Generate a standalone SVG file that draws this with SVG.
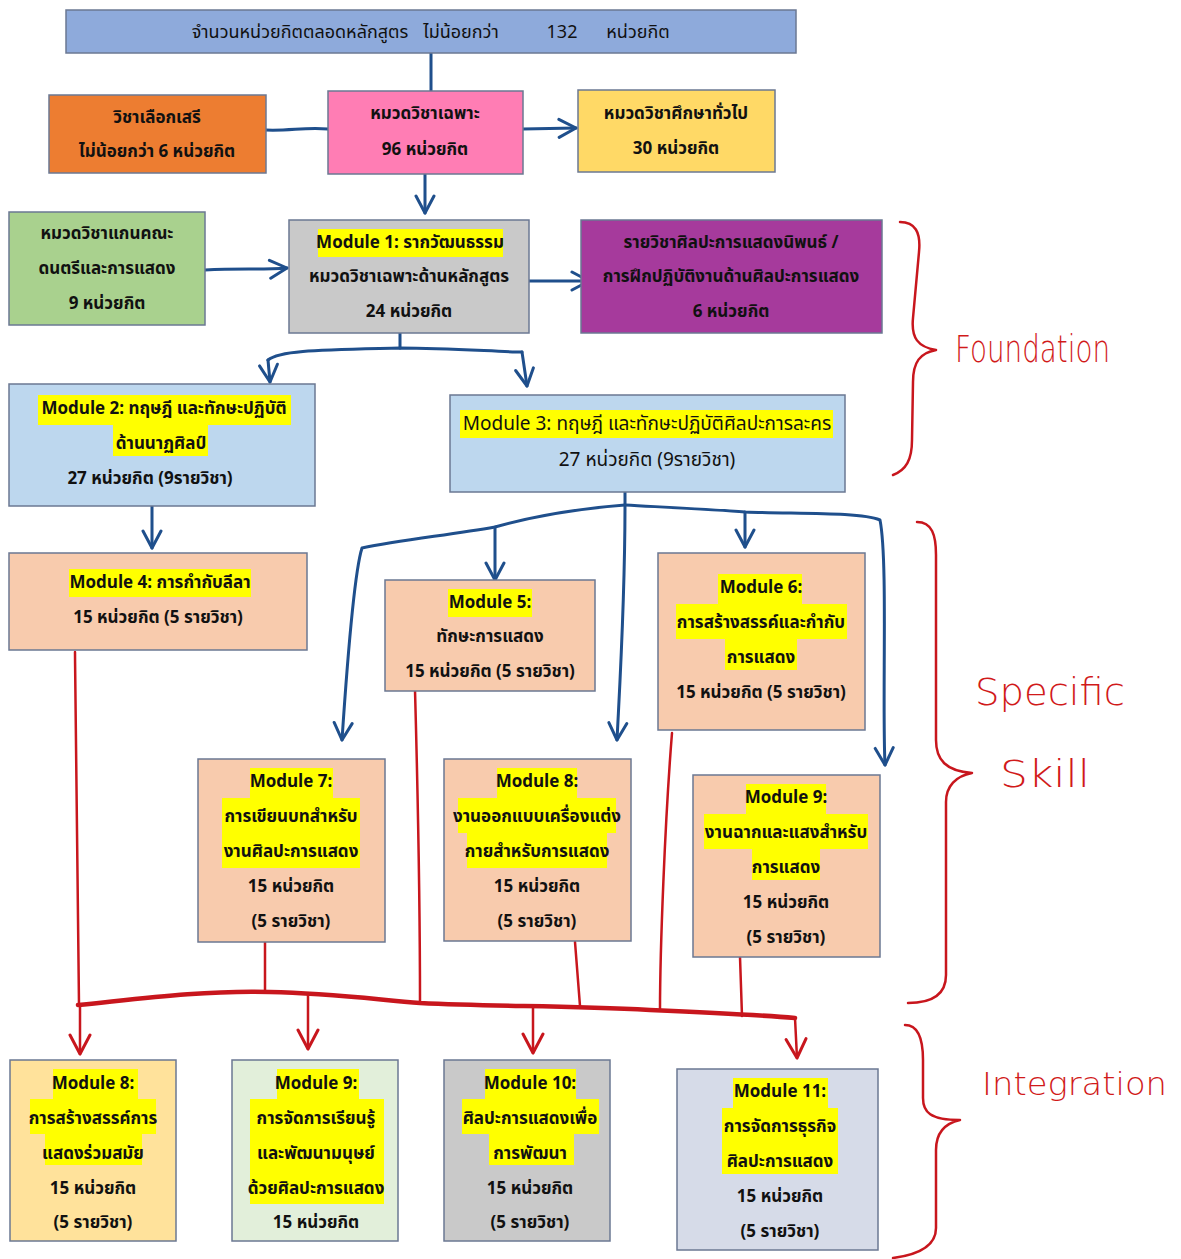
<svg xmlns="http://www.w3.org/2000/svg" width="1181" height="1259" viewBox="0 0 1181 1259">
<style>
.box{stroke:#6b7893;stroke-width:1.5}
.t{font-family:"Noto Sans Thai","Noto Sans","DejaVu Sans",sans-serif;font-size:17px;font-weight:bold;fill:#111;text-anchor:middle}
.r{font-weight:normal;font-size:18px}
.r3{font-weight:normal;font-size:19px}
.hl{fill:#ffff00}
.blue{fill:none;stroke:#1f4f8c;stroke-width:3;stroke-linecap:round;stroke-linejoin:round}
.red{fill:none;stroke:#c8161d;stroke-width:2.5;stroke-linecap:round;stroke-linejoin:round}
.bus{fill:none;stroke:#c8161d;stroke-width:4.5;stroke-linecap:round}
.hand{font-family:"DejaVu Sans",sans-serif;font-weight:200;fill:#d11a1a;font-size:37px}
.small{font-size:32px}
</style>
<defs>
<marker id="ab" viewBox="0 0 22 22" refX="20" refY="11" markerWidth="22" markerHeight="22" markerUnits="userSpaceOnUse" orient="auto">
<path d="M3,2 L20,11 L3,20" fill="none" stroke="#1f4f8c" stroke-width="3" stroke-linecap="round" stroke-linejoin="round"/>
</marker>
<marker id="ar" viewBox="0 0 24 24" refX="22" refY="12" markerWidth="24" markerHeight="24" markerUnits="userSpaceOnUse" orient="auto">
<path d="M3,2 L22,12 L3,22" fill="none" stroke="#c8161d" stroke-width="3" stroke-linecap="round" stroke-linejoin="round"/>
</marker>
</defs>

<g id="connectors">
<path class="blue" d="M431,53 L431,91"/>
<path class="blue" d="M328,129 C305,127 290,131 266,130"/>
<path class="blue" d="M523,129 L576,128" marker-end="url(#ab)"/>
<path class="blue" d="M425,174 L425,213" marker-end="url(#ab)"/>
<path class="blue" d="M205,270 C240,268 260,270 287,268" marker-end="url(#ab)"/>
<path class="blue" d="M529,281 L589,281" marker-end="url(#ab)"/>
<path class="blue" d="M400,333 L400,348"/>
<path class="blue" d="M268,360 C280,350 320,350 400,348 C450,348 500,352 522,352"/>
<path class="blue" d="M268,360 L270,382" marker-end="url(#ab)"/>
<path class="blue" d="M522,352 L527,386" marker-end="url(#ab)"/>
<path class="blue" d="M152,506 L152,548" marker-end="url(#ab)"/>
<path class="blue" d="M625,492 L625,505"/>
<path class="blue" d="M625,505 C560,510 520,520 495,527 C450,535 400,540 362,548 C355,570 348,650 342,740" marker-end="url(#ab)"/>
<path class="blue" d="M495,527 L495,580" marker-end="url(#ab)"/>
<path class="blue" d="M625,505 C625,600 620,680 617,740" marker-end="url(#ab)"/>
<path class="blue" d="M625,505 C680,508 720,510 745,512 C800,514 860,512 880,520 C888,560 882,700 885,765" marker-end="url(#ab)"/>
<path class="blue" d="M745,512 L745,547" marker-end="url(#ab)"/>

<path class="red" d="M75,652 C76,800 78,950 79,1005"/>
<path class="red" d="M265,942 L265,992"/>
<path class="red" d="M415,690 C418,800 420,900 420,1003"/>
<path class="red" d="M575,942 L580,1006"/>
<path class="red" d="M672,733 C665,820 660,950 660,1010"/>
<path class="red" d="M740,957 L742,1016"/>
<path class="bus" d="M78,1005 C130,1000 200,990 270,992 C330,993 380,1000 420,1003 C500,1007 560,1005 650,1010 C720,1013 760,1015 795,1018"/>
<path class="red" d="M80,1005 L80,1054" marker-end="url(#ar)"/>
<path class="red" d="M308,995 L308,1049" marker-end="url(#ar)"/>
<path class="red" d="M533,1006 L533,1053" marker-end="url(#ar)"/>
<path class="red" d="M795,1018 L797,1058" marker-end="url(#ar)"/>
</g>

<g id="top">
<rect class="box" x="66" y="10" width="730" height="43" fill="#8eaadb"/>
<text class="t r" y="38"><tspan x="300">จำนวนหน่วยกิตตลอดหลักสูตร</tspan><tspan x="461">ไม่น้อยกว่า</tspan><tspan x="562">132</tspan><tspan x="638">หน่วยกิต</tspan></text>
</g>

<g id="elective">
<rect class="box" x="49" y="95" width="217" height="78" fill="#ed7d31"/>
<text class="t" x="157" y="123">วิชาเลือกเสรี</text>
<text class="t" x="157" y="157">ไม่น้อยกว่า 6 หน่วยกิต</text>
</g>

<g id="major">
<rect class="box" x="328" y="91" width="195" height="83" fill="#ff7db4"/>
<text class="t" x="425" y="119">หมวดวิชาเฉพาะ</text>
<text class="t" x="425" y="155">96 หน่วยกิต</text>
</g>

<g id="general">
<rect class="box" x="578" y="90" width="197" height="82" fill="#ffd966"/>
<text class="t" x="676" y="119">หมวดวิชาศึกษาทั่วไป</text>
<text class="t" x="676" y="154">30 หน่วยกิต</text>
</g>

<g id="faculty-core">
<rect class="box" x="9" y="212" width="196" height="113" fill="#a9d18e"/>
<text class="t" x="107" y="239">หมวดวิชาแกนคณะ</text>
<text class="t" x="107" y="274">ดนตรีและการแสดง</text>
<text class="t" x="107" y="309">9 หน่วยกิต</text>
</g>

<g id="module1">
<rect class="box" x="289" y="220" width="240" height="113" fill="#c9c9c9"/>
<rect class="hl" x="318" y="229" width="185" height="28"/>
<text class="t" x="410" y="248">Module 1: รากวัฒนธรรม</text>
<text class="t" x="409" y="282">หมวดวิชาเฉพาะด้านหลักสูตร</text>
<text class="t" x="409" y="317">24 หน่วยกิต</text>
</g>

<g id="thesis">
<rect class="box" x="581" y="220" width="301" height="113" fill="#a63a9c"/>
<text class="t" x="731" y="248">รายวิชาศิลปะการแสดงนิพนธ์ /</text>
<text class="t" x="731" y="282">การฝึกปฏิบัติงานด้านศิลปะการแสดง</text>
<text class="t" x="731" y="317">6 หน่วยกิต</text>
</g>

<g id="module2">
<rect class="box" x="9" y="384" width="306" height="122" fill="#bdd7ee"/>
<rect class="hl" x="38" y="395" width="253" height="30"/>
<rect class="hl" x="113" y="425" width="95" height="31"/>
<text class="t" x="164" y="414">Module 2: ทฤษฎี และทักษะปฏิบัติ</text>
<text class="t" x="161" y="449">ด้านนาฏศิลป์</text>
<text class="t" x="150" y="484">27 หน่วยกิต (9รายวิชา)</text>
</g>

<g id="module3">
<rect class="box" x="450" y="395" width="395" height="97" fill="#bdd7ee"/>
<rect class="hl" x="460" y="410" width="373" height="28"/>
<text class="t r3" x="647" y="430">Module 3: ทฤษฎี และทักษะปฏิบัติศิลปะการละคร</text>
<text class="t r3" x="647" y="466">27 หน่วยกิต (9รายวิชา)</text>
</g>

<g id="module4">
<rect class="box" x="9" y="553" width="298" height="97" fill="#f8cbad"/>
<rect class="hl" x="69" y="569" width="182" height="28"/>
<text class="t" x="160" y="588">Module 4: การกำกับลีลา</text>
<text class="t" x="158" y="623">15 หน่วยกิต (5 รายวิชา)</text>
</g>

<g id="module5">
<rect class="box" x="385" y="580" width="210" height="111" fill="#f8cbad"/>
<rect class="hl" x="448" y="589" width="84" height="28"/>
<text class="t" x="490" y="608">Module 5:</text>
<text class="t" x="490" y="642">ทักษะการแสดง</text>
<text class="t" x="490" y="677">15 หน่วยกิต (5 รายวิชา)</text>
</g>

<g id="module6">
<rect class="box" x="658" y="553" width="207" height="177" fill="#f8cbad"/>
<rect class="hl" x="718" y="574" width="84" height="30"/>
<rect class="hl" x="676" y="604" width="171" height="35"/>
<rect class="hl" x="725" y="639" width="72" height="31"/>
<text class="t" x="761" y="593">Module 6:</text>
<text class="t" x="761" y="628">การสร้างสรรค์และกำกับ</text>
<text class="t" x="761" y="663">การแสดง</text>
<text class="t" x="761" y="698">15 หน่วยกิต (5 รายวิชา)</text>
</g>

<g id="module7">
<rect class="box" x="198" y="759" width="187" height="183" fill="#f8cbad"/>
<rect class="hl" x="250" y="768" width="83" height="30"/>
<rect class="hl" x="222" y="798" width="138" height="70"/>
<text class="t" x="291" y="787">Module 7:</text>
<text class="t" x="291" y="822">การเขียนบทสำหรับ</text>
<text class="t" x="291" y="857">งานศิลปะการแสดง</text>
<text class="t" x="291" y="892">15 หน่วยกิต</text>
<text class="t" x="291" y="927">(5 รายวิชา)</text>
</g>

<g id="module8">
<rect class="box" x="444" y="759" width="187" height="182" fill="#f8cbad"/>
<rect class="hl" x="497" y="768" width="80" height="30"/>
<rect class="hl" x="458" y="798" width="158" height="35"/>
<rect class="hl" x="467" y="833" width="140" height="35"/>
<text class="t" x="537" y="787">Module 8:</text>
<text class="t" x="537" y="822">งานออกแบบเครื่องแต่ง</text>
<text class="t" x="537" y="857">กายสำหรับการแสดง</text>
<text class="t" x="537" y="892">15 หน่วยกิต</text>
<text class="t" x="537" y="927">(5 รายวิชา)</text>
</g>

<g id="module9">
<rect class="box" x="693" y="775" width="187" height="182" fill="#f8cbad"/>
<rect class="hl" x="746" y="784" width="80" height="30"/>
<rect class="hl" x="704" y="814" width="164" height="35"/>
<rect class="hl" x="752" y="849" width="68" height="31"/>
<text class="t" x="786" y="803">Module 9:</text>
<text class="t" x="786" y="838">งานฉากและแสงสำหรับ</text>
<text class="t" x="786" y="873">การแสดง</text>
<text class="t" x="786" y="908">15 หน่วยกิต</text>
<text class="t" x="786" y="943">(5 รายวิชา)</text>
</g>

<g id="int-module8">
<rect class="box" x="10" y="1060" width="166" height="181" fill="#ffe29b"/>
<rect class="hl" x="53" y="1069" width="85" height="30"/>
<rect class="hl" x="30" y="1099" width="126" height="35"/>
<rect class="hl" x="45" y="1134" width="97" height="31"/>
<text class="t" x="93" y="1089">Module 8:</text>
<text class="t" x="93" y="1124">การสร้างสรรค์การ</text>
<text class="t" x="93" y="1159">แสดงร่วมสมัย</text>
<text class="t" x="93" y="1194">15 หน่วยกิต</text>
<text class="t" x="93" y="1228">(5 รายวิชา)</text>
</g>

<g id="int-module9">
<rect class="box" x="232" y="1060" width="166" height="181" fill="#e2efda"/>
<rect class="hl" x="277" y="1069" width="82" height="30"/>
<rect class="hl" x="250" y="1099" width="134" height="105"/>
<text class="t" x="316" y="1089">Module 9:</text>
<text class="t" x="316" y="1124">การจัดการเรียนรู้</text>
<text class="t" x="316" y="1159">และพัฒนามนุษย์</text>
<text class="t" x="316" y="1194">ด้วยศิลปะการแสดง</text>
<text class="t" x="316" y="1228">15 หน่วยกิต</text>
</g>

<g id="int-module10">
<rect class="box" x="444" y="1060" width="166" height="181" fill="#c9c9c9"/>
<rect class="hl" x="485" y="1069" width="91" height="30"/>
<rect class="hl" x="462" y="1099" width="137" height="35"/>
<rect class="hl" x="489" y="1134" width="85" height="31"/>
<text class="t" x="530" y="1089">Module 10:</text>
<text class="t" x="530" y="1124">ศิลปะการแสดงเพื่อ</text>
<text class="t" x="530" y="1159">การพัฒนา</text>
<text class="t" x="530" y="1194">15 หน่วยกิต</text>
<text class="t" x="530" y="1228">(5 รายวิชา)</text>
</g>

<g id="int-module11">
<rect class="box" x="677" y="1069" width="201" height="181" fill="#d6dbe8"/>
<rect class="hl" x="733" y="1078" width="95" height="30"/>
<rect class="hl" x="722" y="1108" width="116" height="66"/>
<text class="t" x="780" y="1097">Module 11:</text>
<text class="t" x="780" y="1132">การจัดการธุรกิจ</text>
<text class="t" x="780" y="1167">ศิลปะการแสดง</text>
<text class="t" x="780" y="1202">15 หน่วยกิต</text>
<text class="t" x="780" y="1237">(5 รายวิชา)</text>
</g>

<g id="braces">
<path class="red" d="M900,222 C915,222 921,232 919,252 L913,318 C911,338 918,347 936,350 C920,353 913,362 913,382 L912,440 C912,460 906,470 893,475"/>
<path class="red" d="M917,522 C932,522 936,535 936,555 L936,740 C936,760 946,771 972,773 C956,776 946,786 946,802 L946,975 C946,995 932,1003 908,1003"/>
<path class="red" d="M905,1025 C918,1025 923,1040 923,1060 L923,1098 C923,1112 930,1120 960,1120 C942,1124 936,1135 936,1150 L936,1228 C936,1247 916,1255 893,1258"/>
<text class="hand" x="955" y="362" textLength="155" lengthAdjust="spacingAndGlyphs">Foundation</text>
<text class="hand" x="975" y="705" textLength="150" lengthAdjust="spacingAndGlyphs">Specific</text>
<text class="hand" x="1000" y="787" textLength="90" lengthAdjust="spacingAndGlyphs">Skill</text>
<text class="hand small" x="982" y="1095" textLength="185" lengthAdjust="spacingAndGlyphs">Integration</text>
</g>
</svg>
